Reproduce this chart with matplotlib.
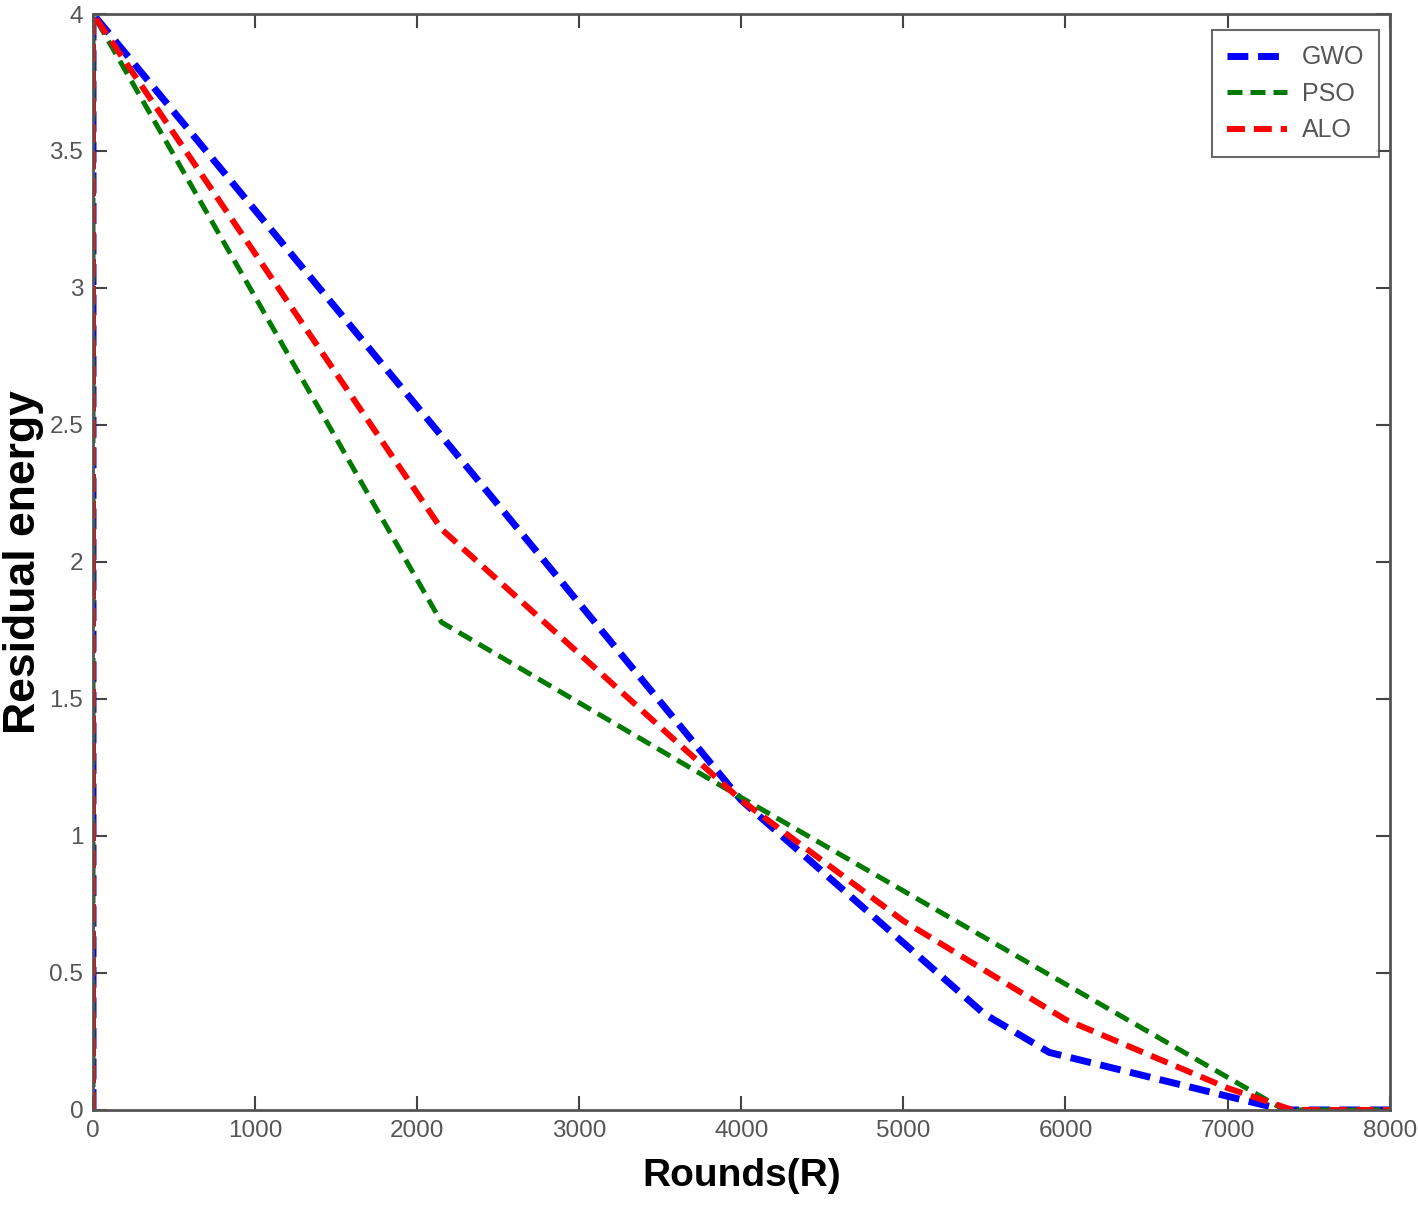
import matplotlib
matplotlib.use('Agg')
from matplotlib import pyplot as plt

# data
gwo_x = [0, 0, 2150, 4000, 5500, 5900, 7000, 7350, 8000]
gwo_y = [0, 4, 2.46, 1.13, 0.35, 0.21, 0.05, 0, 0]

pso_x = [0, 0, 2150, 4000, 7350, 8000]
pso_y = [0, 4, 1.78, 1.14, 0, 0]

alo_x = [0, 0, 2150, 4000, 5000, 6000, 7000, 7400, 8000]
alo_y = [0, 4, 2.12, 1.13, 0.69, 0.33, 0.08, 0, 0]

x_ticks = [0, 1000, 2000, 3000, 4000, 5000, 6000, 7000, 8000]
y_ticks = [0, 0.5, 1, 1.5, 2, 2.5, 3, 3.5, 4]
y_tick_labels = ['0', '0.5', '1', '1.5', '2', '2.5', '3', '3.5', '4']

tick_font = ['Liberation Sans Narrow', 'Liberation Sans', 'DejaVu Sans']
label_font = ['Liberation Sans', 'DejaVu Sans']

fig = plt.figure(figsize=(14.18, 12.07), dpi=100)
ax = fig.add_axes([0.0656, 0.0804, 0.9144, 0.908])

ax.plot(gwo_x, gwo_y, color='#0000ff', linestyle=(0, (3, 1.4)), linewidth=5.0, label='GWO')
ax.plot(pso_x, pso_y, color='#007a00', linestyle=(0, (3, 1.6)), linewidth=3.6, label='PSO')
ax.plot(alo_x, alo_y, color='#ff0000', linestyle=(0, (3, 1.5)), linewidth=4.3, label='ALO')

ax.set_xlim(0, 8000)
ax.set_ylim(0, 4)
ax.set_xticks(x_ticks)
ax.set_xticklabels([str(t) for t in x_ticks])
ax.set_yticks(y_ticks)
ax.set_yticklabels(y_tick_labels)

ax.tick_params(direction='in', length=10, width=1.5, top=True, right=True,
               labelsize=17.5, labelcolor='#555555', color='#444444', pad=7)
for lab in ax.get_xticklabels() + ax.get_yticklabels():
    lab.set_family(tick_font)
for sp in ax.spines.values():
    sp.set_linewidth(2)
    sp.set_color('#555555')

ax.set_xlabel('Rounds(R)', fontsize=28, fontweight='bold', family=label_font, labelpad=12)
ax.set_ylabel('Residual energy', fontsize=32, fontweight='bold', family=label_font, labelpad=4)

# legend box sits just inside the top right corner
leg = ax.legend(loc='upper right', prop={'family': tick_font, 'size': 18},
                handlelength=2.4, handletextpad=0.6, fancybox=False, edgecolor='#444444',
                borderpad=0.6, labelspacing=0.5, borderaxespad=0,
                bbox_to_anchor=(0.992, 0.985))
leg.get_frame().set_linewidth(1.5)
for t in leg.get_texts():
    t.set_color('#555555')

fig.savefig('out.png', dpi=100)
